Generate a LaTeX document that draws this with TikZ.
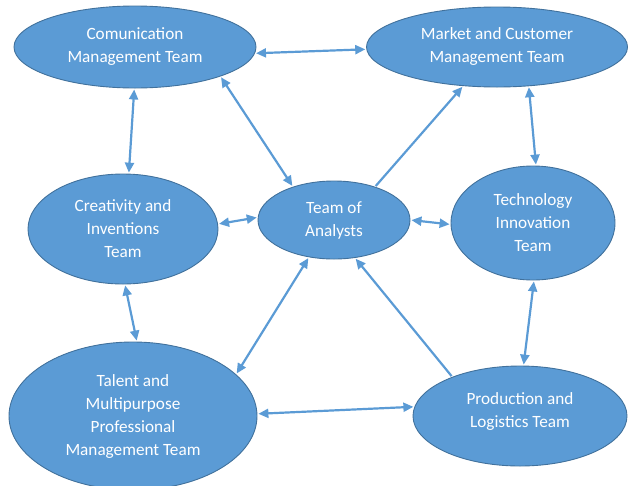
\documentclass[tikz,border=0pt]{standalone}
\usepackage{fontspec}
\setmainfont{Carlito}
\usetikzlibrary{shapes.geometric,arrows.meta}
\definecolor{tfill}{HTML}{5B9BD5}
\definecolor{tline}{HTML}{41719C}
\definecolor{aline}{HTML}{5B9BD5}
\begin{document}
\begin{tikzpicture}[x=1pt,y=-1pt,
  team/.style={ellipse, draw=tline, line width=0.9pt, fill=tfill, inner sep=0pt,
    text=white, align=center, font=\fontsize{17.2}{23}\selectfont},
  link/.style={draw=aline, line width=2.2pt, shorten >=1pt, shorten <=1pt},
  bi/.style={link, {Triangle[length=10pt,width=9pt]}-{Triangle[length=10pt,width=9pt]}},
  uni/.style={link, -{Triangle[length=10pt,width=9pt]}}]
\useasboundingbox (0,0) rectangle (628,485);
\node[team, minimum width=242pt, minimum height=82pt] (com) at (135,47) {Comunication\\Management Team};
\node[team, minimum width=261pt, minimum height=80pt] (mkt) at (497,47) {Market and Customer\\Management Team};
\node[team, minimum width=190pt, minimum height=110pt] (cre) at (123,229) {Creativity and\\Inventions\\Team};
\node[team, minimum width=152pt, minimum height=78pt] (ana) at (334,220) {Team of\\Analysts};
\node[team, minimum width=164pt, minimum height=114pt] (tec) at (533,223) {Technology\\Innovation\\Team};
\node[team, minimum width=248pt, minimum height=148pt] (tal) at (133,416) {Talent and\\Multipurpose\\Professional\\Management Team};
\node[team, minimum width=214pt, minimum height=100pt, text depth=12pt] (pro) at (520,416) {Production and\\Logistics Team};

\draw[bi] (com.-3.75) -- (mkt.181);
\draw[bi] (com.-91.3) -- (cre.84.7);
\draw[bi] (com.-19.4) -- (ana.141.8);
\draw[uni] (ana.39) -- (mkt.229.7);
\draw[bi] (mkt.-51.2) -- (tec.87);
\draw[bi] (cre.3.7) -- (ana.178.5);
\draw[bi] (ana.0) -- (tec.181.3);
\draw[bi] (cre.-88) -- (tal.87);
\draw[bi] (tal.22.8) -- (ana.-124);
\draw[uni] (pro.150.5) -- (ana.-61.3);
\draw[bi] (tec.-89) -- (pro.86.8);
\draw[bi] (tal.1.4) -- (pro.175.7);
\end{tikzpicture}
\end{document}
